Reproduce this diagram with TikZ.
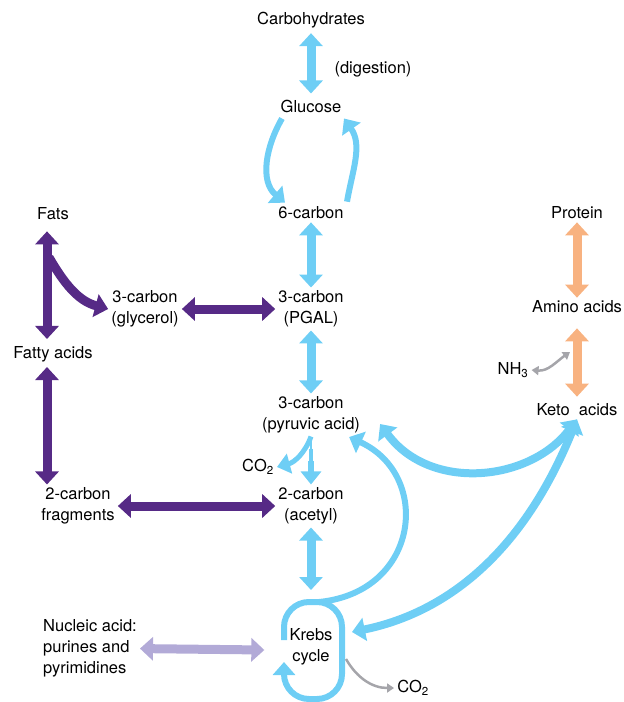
\documentclass[tikz,border=0pt]{standalone}
\usepackage{fontspec}
\setmainfont{TeX Gyre Heros}
\usetikzlibrary{arrows.meta,calc}

\definecolor{skyblue}{RGB}{110,206,245}
\definecolor{fatpurple}{RGB}{86,42,134}
\definecolor{protorange}{RGB}{248,178,128}
\definecolor{nuclilac}{RGB}{178,170,215}
\definecolor{wastegray}{RGB}{165,165,170}

\begin{document}
\begin{tikzpicture}[x=1pt, y=1pt,
    every node/.style={font=\fontsize{16.5}{21}\selectfont, align=center, inner sep=3pt},
    bigdbl/.style={line width=9pt, {Triangle[width=23pt,length=13pt]}-{Triangle[width=23pt,length=13pt]}},
    bigone/.style={line width=9pt, -{Triangle[width=23pt,length=13pt]}},
    thinone/.style={line width=6pt, -{Triangle[width=22pt,length=13pt]}},
    grayarr/.style={wastegray, line width=2.5pt, -{Triangle[width=9pt,length=7pt]}}]
    \useasboundingbox (0,0) rectangle (624,-702);
    % labels
    \node (carb) at (311,-20) {Carbohydrates};
    \node (dig) at (373,-69) {(digestion)};
    \node (glu) at (311,-106) {Glucose};
    \node (sixc) at (311,-213) {6-carbon};
    \node (pgal) at (311,-309) {3-carbon\\(PGAL)};
    \node (pyr) at (311,-415) {3-carbon\\(pyruvic acid)};
    \node (acet) at (311,-506) {2-carbon\\(acetyl)};
    \node (krebs) at (311,-647) {Krebs\\cycle};
    \node (co2a) at (258,-467) {CO\textsubscript{2}};
    \node (co2b) at (413,-688) {CO\textsubscript{2}};
    \node (fats) at (53,-214) {Fats};
    \node (glyc) at (145,-309) {3-carbon\\(glycerol)};
    \node (fatty) at (53,-354) {Fatty acids};
    \node (frag) at (78,-506) {2-carbon\\fragments};
    \node[align=left] (nucl) at (90,-648) {Nucleic acid:\\purines and\\pyrimidines};
    \node (prot) at (577,-213) {Protein};
    \node (amino) at (577,-307) {Amino acids};
    \node (nh3) at (513,-370) {NH\textsubscript{3}};
    \node (keto) at (577,-410) {Keto\ \ acids};

    % carbohydrate path
    \draw[skyblue, bigdbl, shorten <=2pt, shorten >=3pt] (carb) -- (glu);
    \draw[skyblue, thinone] ($(glu.south)+(-29,-3)$) to[out=240, in=140] ($(sixc.north)+(-26,1)$);
    \draw[skyblue, thinone] ($(sixc.north)+(36,2)$) to[out=80, in=-55] ($(glu.south)+(33,-3)$);
    \draw[skyblue, bigdbl] (sixc) -- (pgal);
    \draw[skyblue, bigdbl] (pgal) -- (pyr);
    \foreach \w/\s in {2/0,4/12}
      \draw[skyblue, line width=\w pt, shorten <=\s pt, shorten >=10pt] (pyr.south) -- (acet.north);
    \draw[skyblue, line width=6pt, -{Triangle[width=20pt,length=13pt]}, shorten <=24pt] (pyr.south) -- (acet.north);
    \draw[skyblue, line width=5pt, -{Triangle[width=20pt,length=13pt]}] (pyr.south) to[out=250, in=15] (co2a.east);
    \coordinate (kin) at ($(krebs)+(0,57)$);
    \draw[skyblue, bigdbl] (acet) -- (kin);

    % Krebs cycle loop
    \coordinate (kloop) at ($(krebs)+(-27,7)$);
    \draw[skyblue, line width=6pt, rounded corners=25pt, -{Triangle[width=22pt,length=13pt]}]
        (kloop) -- ++(0,38) -- ++(58,0) -- ++(0,-97) -- ++(-58,0) -- ++(0,37);
    \coordinate (ktop) at ($(krebs)+(8,45)$);
    \coordinate (pyrin) at ($(pyr.east)+(-14,-22)$);
    \draw[skyblue, line width=6pt, -{Triangle[width=23pt,length=13pt]}]
        (ktop) .. controls (420,-592) and (432,-475) .. (pyrin);
    \coordinate (pyrout) at ($(pyr.east)+(17,-9)$);
    \coordinate (krin) at ($(krebs)+(41,15)$);
    \draw[skyblue, bigdbl, line width=8pt] (pyrout) .. controls (430,-492) and (530,-482) .. (keto.south);
    \draw[skyblue, bigdbl, line width=8pt] (keto.south) .. controls (520,-560) and (440,-614) .. (krin);
    \draw[grayarr] ($(krebs)+(35,-12)$) to[out=-60, in=180] (co2b.west);

    % fats
    \coordinate (fstem) at ($(fats.south)+(-6,-8)$);
    \coordinate (fend) at ($(fatty.north)+(-6,4)$);
    \draw[fatpurple, bigdbl] (fstem) -- (fend);
    \draw[fatpurple, bigone] ($(fstem)+(2,-26)$) to[out=-60, in=165] (glyc.west);
    \coordinate (fatlow) at ($(fatty.south)+(-6,-2)$);
    \draw[fatpurple, bigdbl] (fatlow) -- (fatlow |- frag.north);
    \draw[fatpurple, bigdbl] (glyc) -- (pgal);
    \draw[fatpurple, bigdbl] (frag) -- (acet);

    % protein
    \draw[protorange, bigdbl] (prot) -- (amino);
    \draw[protorange, bigdbl, shorten <=12pt, shorten >=4pt] (amino) -- (keto);
    \coordinate (nhout) at ($(amino)+(-7,-45)$);
    \draw[grayarr, {Triangle[width=9pt,length=7pt]}-{Triangle[width=9pt,length=7pt]}] (nhout) to[out=215, in=-5] (nh3.east);

    % nucleic acids
    \draw[nuclilac, bigdbl] (nucl) -- ($(krebs.west)+(-22,-3)$);
\end{tikzpicture}
\end{document}
